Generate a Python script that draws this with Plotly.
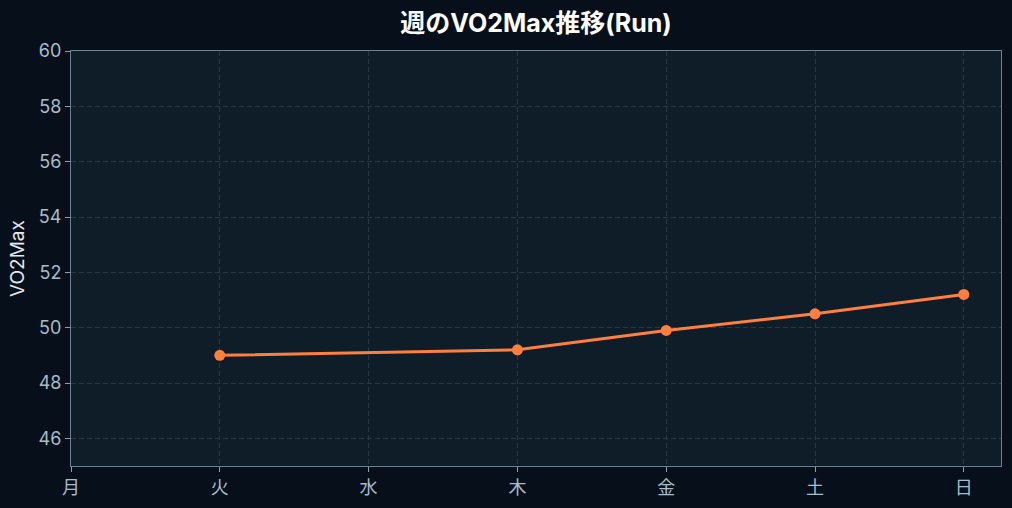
import plotly.graph_objects as go

# 曜日ラベルとデータ (月・水は記録なし)
days = ["月", "火", "水", "木", "金", "土", "日"]
run_days = ["火", "木", "金", "土", "日"]
vo2max = [49.0, 49.2, 49.9, 50.5, 51.2]
y_ticks = [46, 48, 50, 52, 54, 56, 58, 60]

fig = go.Figure()
fig.add_trace(go.Scatter(
    x=run_days, y=vo2max,
    mode="lines+markers",
    line=dict(color="#ff7f3f", width=3),
    marker=dict(color="#ff7f3f", size=11),
    name="VO2Max",
))

axis_common = dict(
    showline=True, linecolor="#6e8090", linewidth=1, mirror=True,
    showgrid=True, gridcolor="#283846", griddash="5px,3px", gridwidth=1,
    ticks="outside", ticklen=5, tickcolor="#8da0b0",
    tickfont=dict(color="#a9bccb", size=18),
    zeroline=False,
)

fig.update_xaxes(
    type="category", categoryorder="array", categoryarray=days,
    range=[0, 6.25], **axis_common,
)
fig.update_yaxes(
    range=[45, 60], tickvals=y_ticks,
    title=dict(text="VO2Max", font=dict(color="#e3e9ee", size=19), standoff=8),
    **axis_common,
)

fig.update_layout(
    width=1012, height=508,
    title=dict(text="<b>週のVO2Max推移(Run)</b>", x=0.5, xref="paper", xanchor="center",
               y=0.955, yanchor="middle",
               font=dict(color="#ffffff", size=25)),
    font=dict(family="Inter, Noto Sans CJK JP, sans-serif"),
    paper_bgcolor="#07101a",
    plot_bgcolor="#0f1d29",
    showlegend=False,
    margin=dict(l=71, r=11, t=51, b=42),
)

# body の余白を消す
fig.write_html("out.html", post_script="document.body.style.margin='0';",
               config={"displayModeBar": False})
